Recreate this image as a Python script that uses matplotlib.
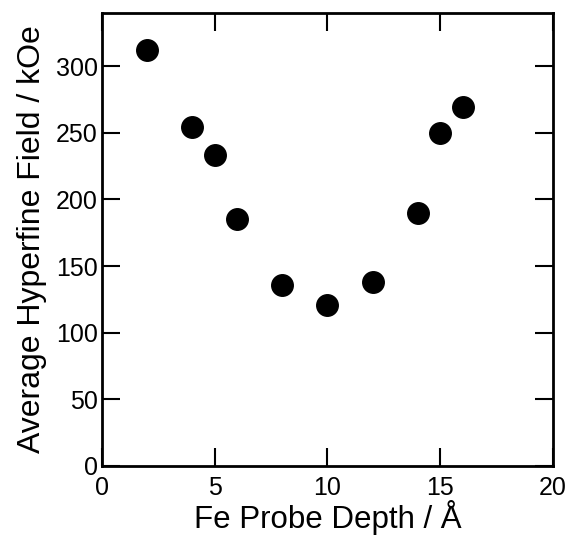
import matplotlib.pyplot as plt

plt.rcParams["font.family"] = "Liberation Sans"

depth = [2, 4, 5, 6, 8, 10, 12, 14, 15, 16]
field = [312, 254, 233, 185, 136, 121, 138, 190, 250, 269]

fig = plt.figure(figsize=(5.69, 5.35), dpi=100)
ax = fig.add_axes([0.179, 0.129, 0.793, 0.847])
ax.plot(depth, field, "o", color="black", markersize=15.5)

ax.set_xlim(0, 20)
ax.set_ylim(0, 340)
ax.set_xticks([0, 5, 10, 15, 20])
ax.set_yticks([0, 50, 100, 150, 200, 250, 300])
ax.tick_params(direction="in", length=13, width=1.5, labelsize=18, top=True, right=True)
ax.tick_params(axis="x", pad=7)
ax.tick_params(axis="y", pad=3)
for s in ax.spines.values():
    s.set_linewidth(2)
ax.set_xlabel("Fe Probe Depth / Å", fontsize=22.5, labelpad=0)
ax.set_ylabel("Average Hyperfine Field / kOe", fontsize=23, labelpad=6)

plt.savefig("out.png", dpi=100)
